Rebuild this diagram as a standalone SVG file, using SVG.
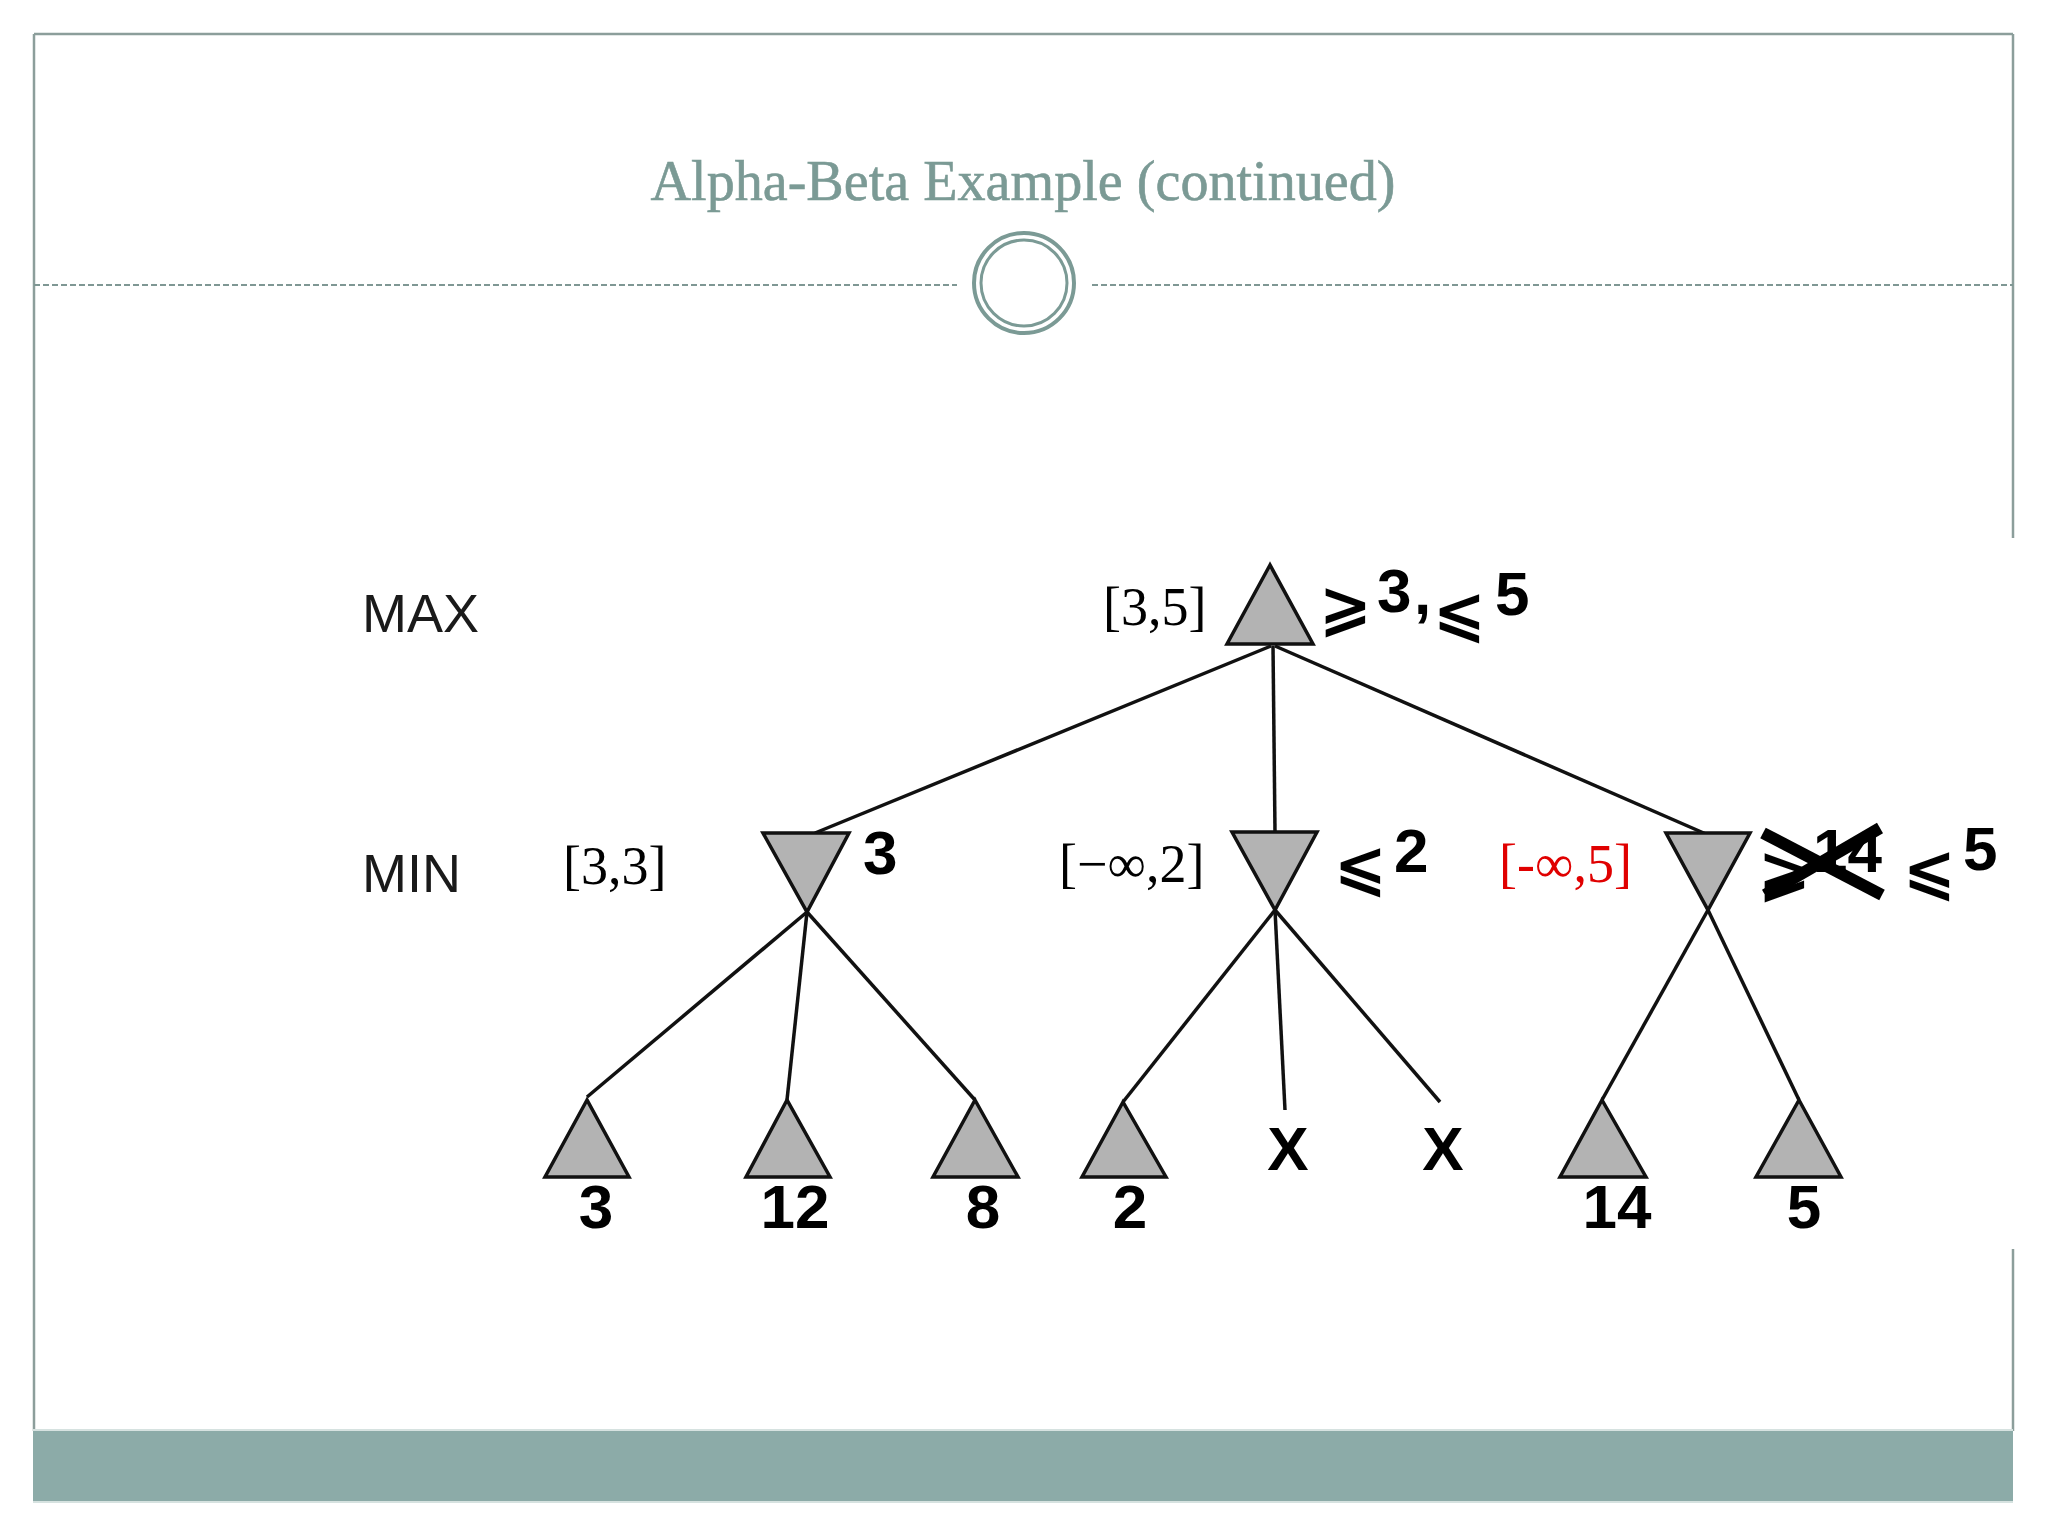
<svg xmlns="http://www.w3.org/2000/svg" width="2048" height="1536" viewBox="0 0 2048 1536">
<style>
.frame{stroke:#8C9E9B;stroke-width:2.5;fill:none}
.tri{fill:#B3B3B3;stroke:#111;stroke-width:3.5;stroke-linejoin:miter}
.edge{stroke:#111;stroke-width:3.5;fill:none}
.rng{font-family:"Liberation Serif","Times New Roman",serif;font-size:54px;fill:#000}
.lbl{font-family:"Liberation Sans",Arial,"DejaVu Sans",sans-serif;font-size:54px;fill:#1a1a1a}
.val{font-family:"Liberation Sans",Arial,"DejaVu Sans",sans-serif;font-weight:bold;font-size:62px;fill:#000}
.sym{font-family:"DejaVu Sans","Liberation Sans",sans-serif;font-weight:bold;font-size:63px;fill:#000}
</style>
<rect width="2048" height="1536" fill="#fff"/>
<!-- slide frame -->
<g id="frame">
<line class="frame" x1="34" y1="34" x2="2013" y2="34"/>
<line class="frame" x1="34" y1="34" x2="34" y2="1431"/>
<line class="frame" x1="2013" y1="34" x2="2013" y2="538"/>
<line class="frame" x1="2013" y1="1249" x2="2013" y2="1431"/>
<rect x="33" y="1431" width="1980" height="70" fill="#8CABA8"/>
<line x1="33" y1="1430" x2="2013" y2="1430" stroke="#D6E2E0" stroke-width="2"/>
<line x1="33" y1="1502" x2="2013" y2="1502" stroke="#D6E2E0" stroke-width="2"/>
<line x1="34" y1="285" x2="957" y2="285" stroke="#7F9794" stroke-width="2" stroke-dasharray="6 3"/>
<line x1="1092" y1="285" x2="2013" y2="285" stroke="#7F9794" stroke-width="2" stroke-dasharray="6 3"/>
<circle cx="1024" cy="283" r="50" fill="#fff" stroke="#7B9A95" stroke-width="4"/>
<circle cx="1024" cy="283" r="43" fill="none" stroke="#7B9A95" stroke-width="3"/>
<text x="1023" y="200" text-anchor="middle" font-family="'Liberation Serif','DejaVu Serif',serif" font-size="56" fill="#7B9A95" stroke="#7B9A95" stroke-width="0.6" textLength="745" lengthAdjust="spacingAndGlyphs">Alpha-Beta Example (continued)</text>
</g>
<!-- level labels -->
<g id="level-labels">
<text class="lbl" x="362" y="632">MAX</text>
<text class="lbl" x="362" y="892">MIN</text>
</g>
<!-- connectors -->
<g id="connectors">
<line class="edge" x1="1271" y1="646" x2="815" y2="833"/>
<line class="edge" x1="1273" y1="646" x2="1275" y2="832"/>
<line class="edge" x1="1275" y1="646" x2="1706" y2="834"/>
<line class="edge" x1="807" y1="912" x2="587" y2="1097"/>
<line class="edge" x1="807" y1="912" x2="787" y2="1100"/>
<line class="edge" x1="807" y1="912" x2="975" y2="1100"/>
<line class="edge" x1="1275" y1="910" x2="1123" y2="1102"/>
<line class="edge" x1="1275" y1="910" x2="1285" y2="1110"/>
<line class="edge" x1="1275" y1="910" x2="1440" y2="1102"/>
<line class="edge" x1="1708" y1="910" x2="1602" y2="1100"/>
<line class="edge" x1="1708" y1="910" x2="1799" y2="1100"/>
</g>
<!-- root MAX node -->
<g id="root">
<polygon class="tri" points="1270,565 1227,644 1313,644"/>
<text class="rng" x="1103" y="625">[3,5]</text>
<text class="val"><tspan class="sym" x="1319" y="628">⩾</tspan><tspan x="1377" y="612">3</tspan><tspan x="1414" y="614">,</tspan><tspan class="sym" x="1433" y="634">⩽</tspan><tspan x="1495" y="615">5</tspan></text>
</g>
<!-- MIN nodes -->
<g id="min1">
<polygon class="tri" points="763,833 849,833 807,912"/>
<text class="rng" x="563" y="884">[3,3]</text>
<text class="val" x="863" y="874">3</text>
</g>
<g id="min2">
<polygon class="tri" points="1232,832 1317,832 1275,910"/>
<text class="rng" x="1059" y="882">[−∞,2]</text>
<text class="val"><tspan class="sym" x="1334" y="888" font-size="58">⩽</tspan><tspan x="1394" y="872">2</tspan></text>
</g>
<g id="min3">
<polygon class="tri" points="1666,833 1750,833 1708,910"/>
<text class="rng" x="1499" y="882" style="fill:#E00000">[-∞,5]</text>
<text class="val"><tspan class="sym" x="1758" y="893">⩾</tspan><tspan x="1813" y="872">14</tspan></text>
<line x1="1763" y1="833" x2="1882" y2="895" stroke="#000" stroke-width="12"/>
<line x1="1765" y1="895" x2="1880" y2="828" stroke="#000" stroke-width="12"/>
<text class="val"><tspan class="sym" x="1903" y="892" font-weight="normal">⩽</tspan><tspan x="1963" y="870">5</tspan></text>
</g>
<!-- leaves -->
<g id="leaf-3">
<polygon class="tri" points="587,1100 545,1177 629,1177"/>
<text class="val" x="596" y="1228" text-anchor="middle">3</text>
</g>
<g id="leaf-12">
<polygon class="tri" points="787,1100 746,1177 830,1177"/>
<text class="val" x="795" y="1228" text-anchor="middle">12</text>
</g>
<g id="leaf-8">
<polygon class="tri" points="975,1100 933,1177 1018,1177"/>
<text class="val" x="983" y="1228" text-anchor="middle">8</text>
</g>
<g id="leaf-2">
<polygon class="tri" points="1123,1102 1082,1177 1166,1177"/>
<text class="val" x="1130" y="1228" text-anchor="middle">2</text>
</g>
<g id="leaf-x1">
<text class="val" x="1288" y="1170" text-anchor="middle" font-size="66">X</text>
</g>
<g id="leaf-x2">
<text class="val" x="1443" y="1170" text-anchor="middle" font-size="66">X</text>
</g>
<g id="leaf-14">
<polygon class="tri" points="1602,1100 1560,1177 1646,1177"/>
<text class="val" x="1617" y="1228" text-anchor="middle">14</text>
</g>
<g id="leaf-5">
<polygon class="tri" points="1799,1100 1756,1177 1841,1177"/>
<text class="val" x="1804" y="1228" text-anchor="middle">5</text>
</g>
</svg>
